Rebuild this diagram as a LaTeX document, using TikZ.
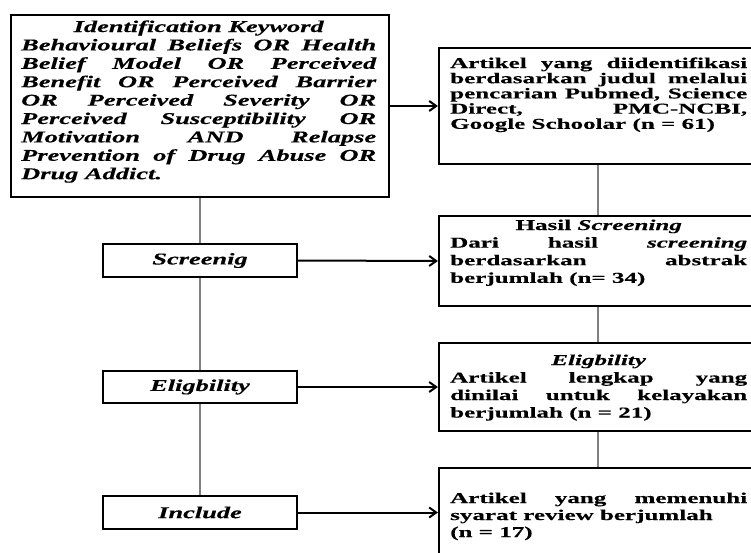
\documentclass[tikz,border=0pt]{standalone}
\usepackage{fontspec}
\setmainfont{Liberation Serif}
\newfontfamily\kwfont{Liberation Serif}[FakeStretch=1.6,FakeBold=0.3]
\newfontfamily\rfont{Liberation Serif}[FakeStretch=1.67,FakeBold=0.3]
\usetikzlibrary{arrows.meta}
\tikzset{
  box/.style={draw=black, line width=2.2pt, inner sep=0pt, rectangle, fill=white},
  sidebox/.style={box, minimum width=194pt},
  mainbox/.style={box, minimum width=318pt},
  txt/.style={inner sep=0pt, anchor=base west},
  conn/.style={draw={rgb,255:red,128;green,128;blue,128}, line width=1.2pt},
  arr/.style={draw=black, line width=2pt, -{Straight Barb[length=7pt,width=10pt,line width=2pt]}},
  sidefont/.style={font=\kwfont\fontsize{16.5}{18.4}\selectfont\bfseries\itshape}
}
\begin{document}
\begin{tikzpicture}[x=1pt,y=-1pt]
\clip (0,0) rectangle (751,552);
\fill[white] (0,0) rectangle (751,552);
% boxes
\node[box, minimum width=378pt, minimum height=182pt] (kw) at (200,106) {};
\node[mainbox, minimum height=116pt] (b1) at (598,106) {};
\node[mainbox, minimum height=90pt] (b2) at (598,261) {};
\node[mainbox, minimum height=88pt] (b3) at (598,387) {};
\node[mainbox, minimum height=89pt] (b4) at (598,512.5) {};
\node[sidebox, minimum height=33pt, sidefont] (scr) at (200,260.5) {Screenig};
\node[sidebox, minimum height=32pt, sidefont] (eli) at (200,387) {Eligbility};
\node[sidebox, minimum height=33pt, sidefont] (inc) at (200,512.5) {Include};
% vertical connectors
\draw[conn] (kw.south) -- (scr.north);
\draw[conn] (scr.south) -- (eli.north);
\draw[conn] (eli.south) -- (inc.north);
\draw[conn] (b1.south) -- (b2.north);
\draw[conn] (b2.south) -- (b3.north);
\draw[conn] (b3.south) -- (b4.north);
% arrows
\draw[arr] (kw.east) -- (b1.west);
\draw[arr] (scr.east) -- (b2.west);
\draw[arr] (eli.east) -- (b3.west);
\draw[arr] (inc.east) -- (b4.west);
% texts
\node[txt] (kwtext) at (21,32) {\parbox[t]{355pt}{\kwfont\fontsize{16.5}{18.4}\selectfont\lineskiplimit=-20pt\bfseries\itshape\hyphenpenalty=10000
\makebox[\linewidth]{Identification Keyword}\par
Behavioural Beliefs OR Health\linebreak Belief Model OR Perceived\linebreak Benefit OR Perceived Barrier\linebreak OR Perceived Severity OR\linebreak Perceived Susceptibility OR\linebreak Motivation AND Relapse\linebreak Prevention of Drug Abuse OR\linebreak Drug Addict.}};
\node[txt] (t1) at (450,68) {\parbox[t]{297pt}{\rfont\fontsize{15}{15.2}\selectfont\lineskiplimit=-20pt\bfseries\hyphenpenalty=10000
Artikel yang diidentifikasi\linebreak berdasarkan judul melalui\linebreak pencarian Pubmed, Science\linebreak Direct, PMC-NCBI,\linebreak Google Schoolar (n = 61)}};
\node[txt] (t2) at (450,230) {\parbox[t]{297pt}{\rfont\fontsize{15}{17.6}\selectfont\lineskiplimit=-20pt\bfseries\hyphenpenalty=10000
\makebox[\linewidth]{Hasil \textit{Screening}}\par
Dari hasil \textit{screening}\linebreak berdasarkan abstrak\linebreak berjumlah (n= 34)}};
\node[txt] (t3) at (450,365) {\parbox[t]{297pt}{\rfont\fontsize{15}{17.5}\selectfont\lineskiplimit=-20pt\bfseries\hyphenpenalty=10000
\makebox[\linewidth]{\textit{Eligbility}}\par
Artikel lengkap yang\linebreak dinilai untuk kelayakan\linebreak berjumlah (n = 21)}};
\node[txt] (t4) at (450,503) {\parbox[t]{297pt}{\rfont\fontsize{15}{17}\selectfont\lineskiplimit=-20pt\bfseries\hyphenpenalty=10000
Artikel yang memenuhi\linebreak syarat review berjumlah\\
(n = 17)}};
\end{tikzpicture}
\end{document}
